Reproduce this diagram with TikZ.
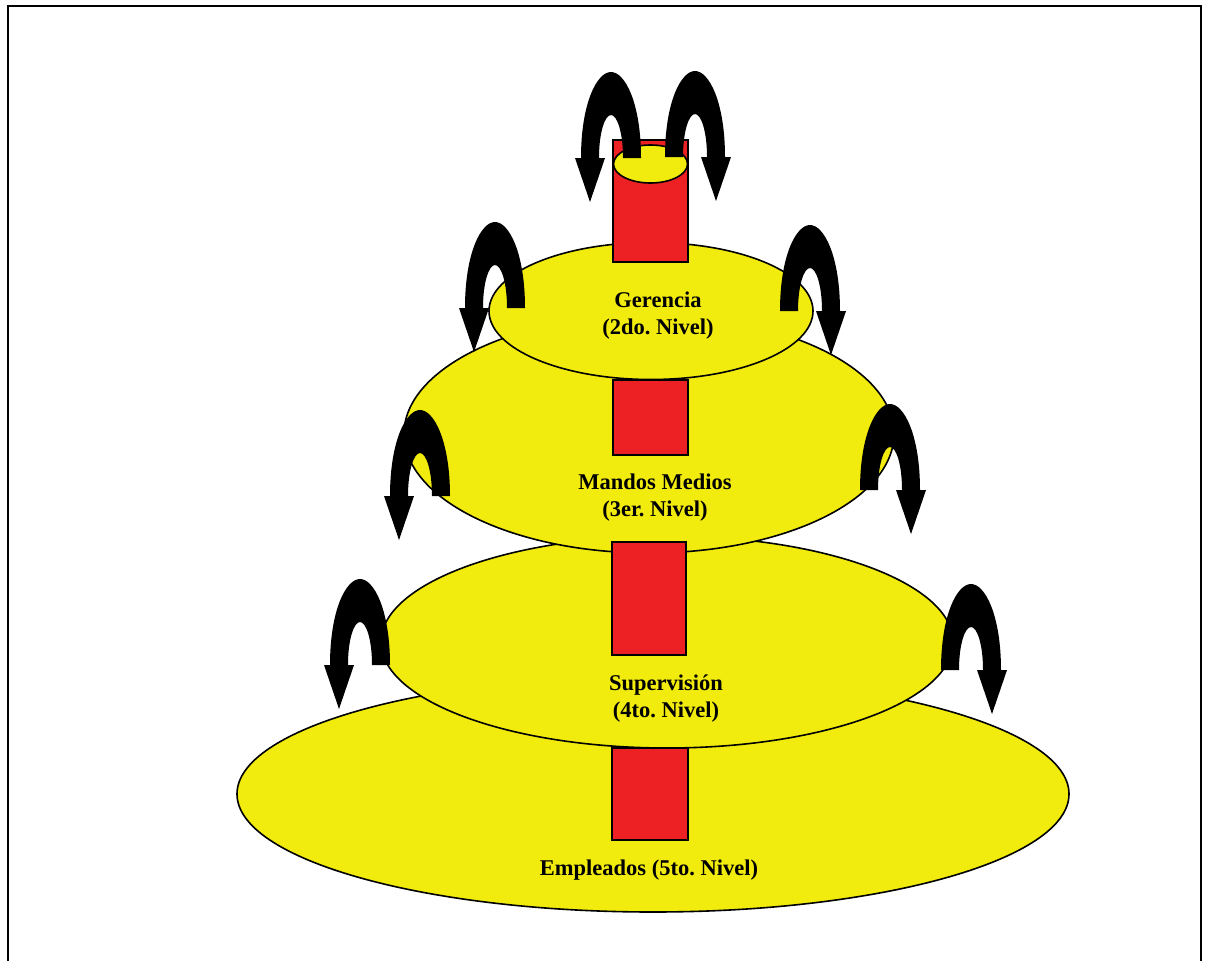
\documentclass[tikz,border=0pt]{standalone}
\usepackage{fontspec}
\setmainfont{Liberation Serif}
\usetikzlibrary{shapes.geometric}
\definecolor{tierfill}{RGB}{242,235,14}
\definecolor{corefill}{RGB}{237,32,36}
\frenchspacing
\begin{document}
\begin{tikzpicture}[x=1pt,y=-1pt,
  tier/.style={ellipse,draw=black,line width=1.6pt,fill=tierfill,inner sep=0pt},
  core/.style={rectangle,draw=black,line width=1.6pt,fill=corefill,inner sep=0pt},
  tiertext/.style={font=\bfseries\fontsize{22.5}{27}\selectfont,align=center,inner sep=0pt},
  % thick U-turn arrow; argument 1 puts the head on the left leg, -1 on the right leg
  uturn/.pic={
    \fill[black] ({#1*30},0) .. controls ({#1*30},-55) and ({#1*14},-86) .. (0,-86)
      .. controls ({#1*-14},-86) and ({#1*-30},-55) .. ({#1*-30},0)
      -- ({#1*-36},0) -- ({#1*-21},44) -- ({#1*-6},0) -- ({#1*-12},0)
      .. controls ({#1*-12},-26) and ({#1*-6},-43) .. (0,-43)
      .. controls ({#1*6},-43) and ({#1*12},-26) .. ({#1*12},0) -- cycle;
  }
]
\useasboundingbox (0,0) rectangle (1207,961);
\fill[white] (0,0) rectangle (1207,961);

% page frame
\draw[line width=1.4pt] (8,961) -- (8,6) -- (1201,6) -- (1201,961);

% tiers, from the base upwards
\node[tier,minimum width=832pt,minimum height=236pt] (empleados) at (653,794) {};
\node[tier,minimum width=572pt,minimum height=212pt] (supervision) at (667,642) {};
\node[tier,minimum width=490pt,minimum height=238pt] (mandos) at (649,434) {};
\node[tier,minimum width=324pt,minimum height=137pt] (gerencia) at (651,311) {};

% central red column segments
\node[core,minimum width=75pt,minimum height=122pt] (col1) at (650.5,201) {};
\node[core,minimum width=75pt,minimum height=75pt] (col2) at (650.5,417.5) {};
\node[core,minimum width=74pt,minimum height=113pt] (col3) at (649,598.5) {};
\node[core,minimum width=76pt,minimum height=92pt] (col4) at (650,794) {};

% top of the column
\node[tier,minimum width=74pt,minimum height=38pt] (cap) at (650.5,164) {};

% level names
\node[tiertext] (tGerencia) at (658,315.5) {Gerencia\\(2do. Nivel)};
\node[tiertext] (tMandos) at (655,498) {Mandos Medios\\(3er. Nivel)};
\node[tiertext] (tSuper) at (666,699) {Supervisión\\(4to. Nivel)};
\node[tiertext] (tEmpleados) at (649,870.5) {Empleados (5to. Nivel)};

% U-turn arrows
\pic at (611,158) {uturn=1};
\pic at (695,157) {uturn=-1};
\pic at (495,308) {uturn=1};
\pic at (810,311) {uturn=-1};
\pic at (420,496) {uturn=1};
\pic at (890,490) {uturn=-1};
\pic at (360,665) {uturn=1};
\pic at (971,670) {uturn=-1};
\end{tikzpicture}
\end{document}
